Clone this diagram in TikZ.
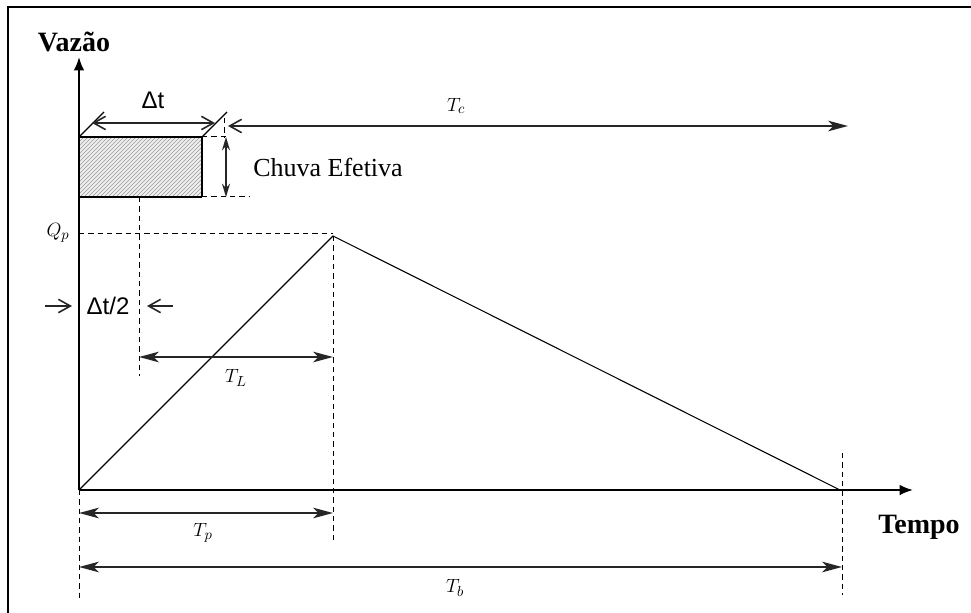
\documentclass[tikz,border=0pt]{standalone}
\usepackage{fontspec}
\setmainfont{Liberation Serif}
\newfontfamily\sansf{Liberation Sans}
\usetikzlibrary{arrows.meta,patterns}
\begin{document}
\begin{tikzpicture}[x=0.75pt,y=-0.75pt,
  frameline/.style={line width=1.6pt},
  axisline/.style={line width=1.5pt},
  curveline/.style={line width=0.8pt},
  dimline/.style={line width=1.2pt, draw=black!85},
  guide/.style={line width=0.75pt, dash pattern=on 4pt off 3pt},
  bigtip/.tip={Stealth[length=15pt,width=8pt,inset=4pt]},
  barb/.tip={Straight Barb[length=9pt,width=10pt]},
  axtip/.tip={Latex[length=10pt,width=8pt]},
  mlabel/.style={inner sep=0pt, font=\fontsize{15}{17}\selectfont},
  slabel/.style={inner sep=0pt, font=\sansf\fontsize{18}{20}\selectfont},
  blabel/.style={inner sep=0pt, font=\bfseries\fontsize{21}{24}\selectfont},
]
\useasboundingbox (0,0) rectangle (971,613);
% frame
\coordinate (fbl) at (8,613);
\coordinate (ftl) at (8,7);
\coordinate (ftr) at (971,7);
\draw[frameline] (fbl) -- (ftl) -- (ftr);

% key points
\coordinate (O) at (79,490);
\coordinate (Ytop) at (79,57);
\coordinate (Xend) at (913,490);
\coordinate (P) at (333,236);
\coordinate (B) at (840,490);

% rain block
\coordinate (R1) at (79,137);
\coordinate (R2) at (202,197);
\fill[gray!12] (R1) rectangle (R2);
\fill[pattern=north east lines, pattern color=gray!80] (R1) rectangle (R2);
\draw[line width=0.9pt] (79,137) -- (202,137) -- (202,197);
\draw[line width=1.5pt] (79,197) -- (202,197);

% axes
\draw[axisline,-axtip] (O) -- (Ytop);
\draw[axisline,-axtip] (O) -- (Xend);

% hydrograph
\draw[curveline] (O) -- (P) -- (B);

% guide lines
\coordinate (Qp0) at (79,233);
\coordinate (Qp1) at (333,233);
\draw[guide] (Qp0) -- (Qp1);
\coordinate (c1a) at (139,197);
\coordinate (c1b) at (139,376);
\draw[guide] (c1a) -- (c1b);
\coordinate (pa) at (333,236);
\coordinate (pb) at (333,540);
\draw[guide] (pa) -- (pb);
\coordinate (oa) at (79,490);
\coordinate (ob) at (79,600);
\draw[guide] (oa) -- (ob);
\coordinate (ba) at (842,453);
\coordinate (bb) at (842,595);
\draw[guide] (ba) -- (bb);
\coordinate (rt0) at (202,137);
\coordinate (rt1) at (226,137);
\draw[guide] (rt0) -- (rt1);
\coordinate (rb0) at (202,197);
\coordinate (rb1) at (250,197);
\draw[guide] (rb0) -- (rb1);
\coordinate (tv0) at (224,118);
\coordinate (tv1) at (224,137);
\draw[guide] (tv0) -- (tv1);

% slanted ticks for Delta t
\coordinate (tk1a) at (79,137);
\coordinate (tk1b) at (104,112);
\coordinate (tk2a) at (202,137);
\coordinate (tk2b) at (227,112);
\draw[line width=0.8pt] (tk1a) -- (tk1b);
\draw[line width=0.8pt] (tk2a) -- (tk2b);
\coordinate (dta) at (92,123);
\coordinate (dtb) at (215,123);
\draw[dimline,barb-barb] (dta) -- (dtb);
\node[slabel] (dt) at (153,100) {Δt};

% rain height
\coordinate (ha) at (226,137);
\coordinate (hb) at (226,197);
\draw[dimline,{Stealth[length=10pt,width=6pt]}-{Stealth[length=10pt,width=6pt]}] (ha) -- (hb);
\node[inner sep=0pt, font=\fontsize{19.5}{22}\selectfont, anchor=base] (chuva) at (328,176) {Chuva Efetiva};

% Tc
\coordinate (tca) at (228,126);
\coordinate (tcb) at (848,126);
\draw[dimline,barb-bigtip] (tca) -- (tcb);
\node[mlabel] (tc) at (456,106) {$T_c$};

% Qp label
\node[mlabel] (qp) at (58,233) {$Q_p$};

% Delta t / 2
\coordinate (h1a) at (45,306);
\coordinate (h1b) at (72,306);
\coordinate (h2a) at (173,306);
\coordinate (h2b) at (147,306);
\draw[dimline,-barb] (h1a) -- (h1b);
\draw[dimline,-barb] (h2a) -- (h2b);
\node[slabel] (dt2) at (108,306) {Δt/2};

% TL
\coordinate (tla) at (139,357);
\coordinate (tlb) at (333,357);
\draw[dimline,bigtip-bigtip] (tla) -- (tlb);
\node[mlabel] (tl) at (236,378) {$T_L$};

% Tp
\coordinate (tpa) at (79,513);
\coordinate (tpb) at (333,513);
\draw[dimline,bigtip-bigtip] (tpa) -- (tpb);
\node[mlabel] (tp) at (203,533) {$T_p$};

% Tb
\coordinate (tba) at (79,567);
\coordinate (tbb) at (842,567);
\draw[dimline,bigtip-bigtip] (tba) -- (tbb);
\node[mlabel] (tb) at (455,588) {$T_b$};

% axis labels
\node[blabel] (vaz) at (74,42) {Vazão};
\node[blabel] (tempo) at (919,527) {Tempo};
\end{tikzpicture}
\end{document}
